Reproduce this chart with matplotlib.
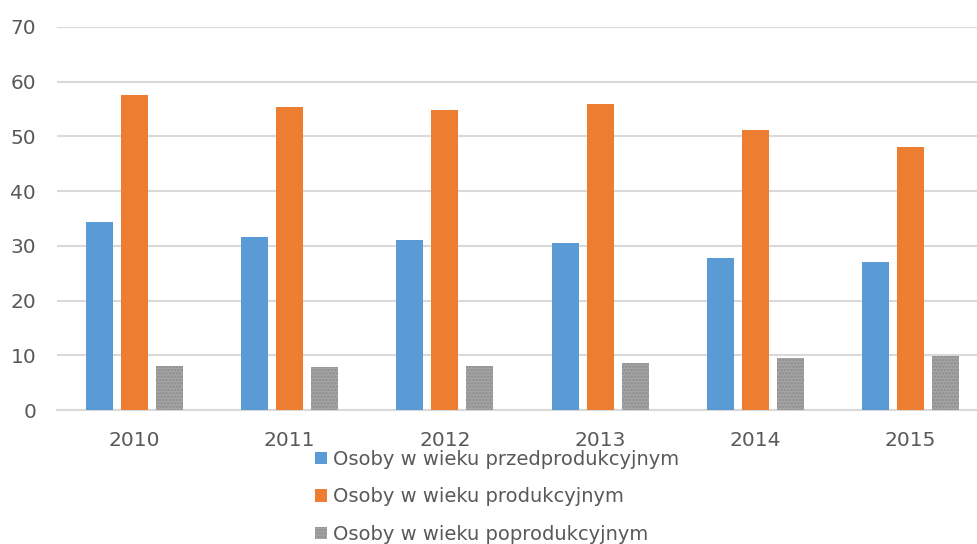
import numpy as np
import matplotlib
matplotlib.use('Agg')
import matplotlib.pyplot as plt
from matplotlib.patches import Patch

# Data
years = ['2010', '2011', '2012', '2013', '2014', '2015']
przedprodukcyjny = [34.4, 31.7, 31.1, 30.5, 27.7, 27.0]
produkcyjny = [57.5, 55.4, 54.8, 55.9, 51.2, 48.1]
poprodukcyjny = [8.0, 7.9, 8.1, 8.5, 9.5, 9.9]
labels = ['Osoby w wieku przedprodukcyjnym',
          'Osoby w wieku produkcyjnym',
          'Osoby w wieku poprodukcyjnym']

blue = '#5b9bd5'
orange = '#ed7d31'
gray = '#a5a5a5'
text_col = '#595959'

plt.rcParams['font.family'] = ['DejaVu Sans']
plt.rcParams['hatch.linewidth'] = 1.2

fig = plt.figure(figsize=(9.77, 5.44), dpi=100)
# plot area runs a little past the right edge, as in the reference
ax = fig.add_axes([57 / 977, 1 - 410 / 544, (988 - 57) / 977, (410 - 27) / 544])

x = np.arange(len(years))
w = 0.174
step = 0.2255
ax.bar(x - step, przedprodukcyjny, w, color=blue, zorder=3)
ax.bar(x, produkcyjny, w, color=orange, zorder=3)
ax.bar(x + step, poprodukcyjny, w, color=gray, hatch='.....',
       edgecolor='#8c8c8c', linewidth=0, zorder=3)

ax.set_xlim(-0.5, len(years) - 0.5)
ax.set_ylim(0, 70)
ax.set_yticks(np.arange(0, 71, 10))
ax.set_xticks(x)
ax.set_xticklabels(years)
ax.yaxis.grid(True, color='#d9d9d9', linewidth=1.5, zorder=0)
ax.set_axisbelow(True)
for s in ['top', 'right', 'left']:
    ax.spines[s].set_visible(False)
ax.spines['bottom'].set_color('#d9d9d9')
ax.spines['bottom'].set_linewidth(1.5)
ax.tick_params(axis='both', length=0, labelsize=14.5, colors=text_col)
ax.tick_params(axis='y', pad=15)
ax.tick_params(axis='x', pad=15)

handles = [Patch(facecolor=blue), Patch(facecolor=orange),
           Patch(facecolor=gray, hatch='.....', edgecolor='#8c8c8c', linewidth=0)]
leg = fig.legend(handles, labels, loc='upper left',
                 bbox_to_anchor=(315 / 977, 1 - 450 / 544),
                 frameon=False, fontsize=14, handlelength=0.6,
                 handleheight=0.6, handletextpad=0.35, labelspacing=0.95,
                 borderpad=0, borderaxespad=0)
for t in leg.get_texts():
    t.set_color(text_col)

fig.savefig('out.png', dpi=100)
